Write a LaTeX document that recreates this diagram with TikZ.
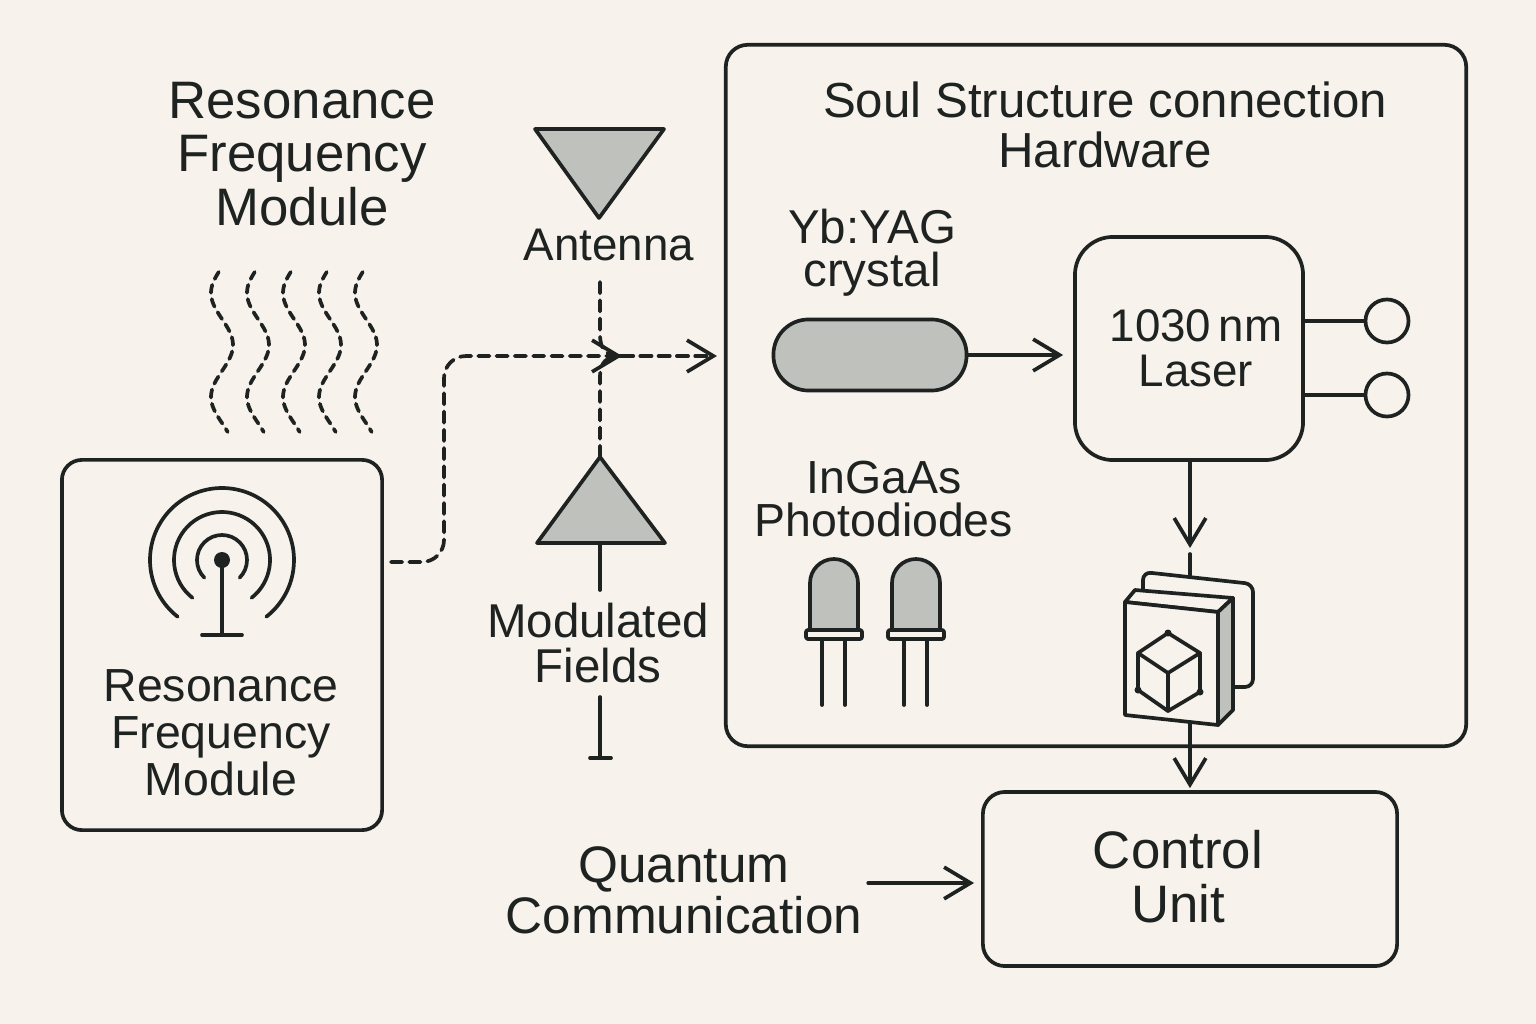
\documentclass[tikz,border=0pt]{standalone}
\usepackage{fontspec}
\setmainfont{Liberation Sans}
\usetikzlibrary{positioning}
\usetikzlibrary{arrows.meta}
\definecolor{bg}{RGB}{247,242,235}
\definecolor{ink}{RGB}{30,34,33}
\definecolor{greyfill}{RGB}{190,193,188}
\newcommand{\bigtxt}{\fontsize{15}{15.4}\selectfont}
\newcommand{\midtxt}{\fontsize{13}{12.8}\selectfont}

\begin{document}
\begin{tikzpicture}[x=0.01cm,y=-0.01cm,line cap=round,line join=round,color=ink,line width=1.05pt,
  box/.style={draw,rounded corners=0.2cm,inner sep=0pt},
  lbl/.style={align=center,inner sep=0pt},
  arr/.style={-{Straight Barb[length=7.5pt,width=9pt]}},
  dashline/.style={dash pattern=on 3.2pt off 2pt},
  waveline/.style={dash pattern=on 2.3pt off 1.8pt}]
\fill[bg] (0,0) rectangle (1536,1024);

\node[box,minimum width=3.2cm,minimum height=3.7cm] (rfbox) at (222,645) {};
\node[box,minimum width=7.4cm,minimum height=7.01cm,rounded corners=0.22cm] (hw) at (1096,395.5) {};
\node[box,minimum width=2.28cm,minimum height=2.23cm,rounded corners=0.38cm] (laser) at (1189,348.5) {};
\node[box,minimum width=4.14cm,minimum height=1.74cm,rounded corners=0.22cm] (ctrl) at (1190,879) {};
\node[draw,fill=greyfill,rounded corners=0.35cm,minimum width=1.93cm,minimum height=0.71cm,inner sep=0pt] (crystal) at (870,355) {};
\node[draw,circle,minimum size=0.43cm,inner sep=0pt] (pinA) at (1387,321) {};
\node[draw,circle,minimum size=0.43cm,inner sep=0pt] (pinB) at (1387,395) {};

\node[lbl,font=\midtxt] (laserlbl) at (1196,348) {1030\,nm\\Laser};
\node[lbl,font=\bigtxt] (ctrllbl) at (1178,877) {Control\\Unit};
\node[lbl,font=\fontsize{15}{15.3}\selectfont] (rftitle) at (302,154) {Resonance\\Frequency\\Module};
\node[lbl,font=\fontsize{13}{13}\selectfont] (antlbl) at (609,245) {Antenna};
\node[lbl,font=\fontsize{13.5}{12.8}\selectfont] (modlbl) at (598,643) {Modulated\\Fields};
\node[lbl,font=\fontsize{14}{14.2}\selectfont] (hwlbl) at (1105,125) {Soul Structure connection\\Hardware};
\node[lbl,font=\fontsize{13.5}{12.3}\selectfont] (yaglbl) at (872,253) {Yb:YAG\\crystal};
\node[lbl,font=\fontsize{13.2}{12.5}\selectfont] (pdlbl) at (884,499) {InGaAs\\Photodiodes};
\node[lbl,font=\fontsize{13.2}{13.4}\selectfont] (rflbl) at (221,733) {Resonance\\Frequency\\Module};
\node[lbl,font=\fontsize{14.6}{14.5}\selectfont] (qclbl) at (684,890) {Quantum\\Communication};

\fill (222,560) circle[radius=8];
\draw (222,560) -- (222,635) (202,635) -- (242,635);
\draw (222,560) ++(135:25) arc[start angle=135,end angle=405,radius=25];
\draw (222,560) ++(128:48) arc[start angle=128,end angle=412,radius=48];
\draw (222,560) ++(128:72) arc[start angle=128,end angle=412,radius=72];

\foreach \i in {0,...,4}
  \draw[waveline] plot[domain=272:432,samples=50,smooth,variable=\t] ({222+36*\i+11*cos(3.4615*(\t-345))},\t);

\draw[fill=greyfill] (535,129) -- (664,129) -- (599,218) -- cycle;
\draw[fill=greyfill] (537,543) -- (665,543) -- (600,457) -- cycle;
\coordinate (apexB) at (600,457);
\coordinate (antdash) at (600,282);
\draw (600,543) -- (600,590);
\draw (600,697) -- (600,758) (590,758) -- (611,758);

\coordinate (join) at (622,356);
\coordinate (rfout) at ([yshift=0.83cm,xshift=0.07cm]rfbox.east);
\draw[dashline,arr,rounded corners=0.22cm] (rfout) -- (444,562) -- (444,356) -- (join);
\draw[dashline,arr,shorten >=0.07cm] (join) -- (join -| hw.west);
\draw[dashline] (antdash) -- (600,334) .. controls (600,350) and (606,356) .. (join);
\draw[dashline] (apexB) -- (600,378) .. controls (600,362) and (606,356) .. (join);

\draw[arr,shorten >=0.1cm] (crystal.east) -- (crystal.east -| laser.west);
\draw (laser.east |- pinA) -- (pinA);
\draw (laser.east |- pinB) -- (pinB);

\foreach \x in {834,916} {
  \draw[fill=greyfill] ({\x-24},630) -- ({\x-24},583) arc[start angle=180,end angle=360,radius=24] -- ({\x+24},630) -- cycle;
  \draw[fill=bg,rounded corners=0.02cm] ({\x-28},630) rectangle ({\x+28},639);
  \draw ({\x-12},639) -- ({\x-12},705) ({\x+11},639) -- ({\x+11},705);
}

\draw[rounded corners=0.08cm] (1143,598) -- (1143,572) -- (1253,584) -- (1253,687) -- (1233,687);
\draw[fill=bg] (1125,602) -- (1135,590) -- (1233,598) -- (1218,612) -- cycle;
\draw[fill=greyfill] (1218,612) -- (1233,598) -- (1233,710) -- (1218,725) -- cycle;
\draw[fill=bg] (1125,602) -- (1218,612) -- (1218,725) -- (1125,715) -- cycle;
\draw (1168,633) -- (1200,653) -- (1200,692) -- (1168,711) -- (1138,690) -- (1138,653) -- cycle;
\draw (1138,653) -- (1168,673) -- (1200,653) (1168,673) -- (1168,711);
\foreach \p in {(1168,633),(1138,690),(1200,692)} \fill \p circle[radius=3.5];
\coordinate (devtop) at (1190,577);
\coordinate (devbot) at (1190,722);

\coordinate (gapA) at (1190,548);
\coordinate (gapB) at (1190,554);
\draw[arr] (gapA |- laser.south) -- (gapA);
\draw (gapB) -- (devtop);
\draw[arr,shorten >=0.02cm] (devbot) -- (devbot |- ctrl.north);

\coordinate (qcout) at ([yshift=0.07cm,xshift=0.04cm]qclbl.east);
\draw[arr,shorten >=0.07cm] (qcout) -- (qcout -| ctrl.west);
\end{tikzpicture}
\end{document}
